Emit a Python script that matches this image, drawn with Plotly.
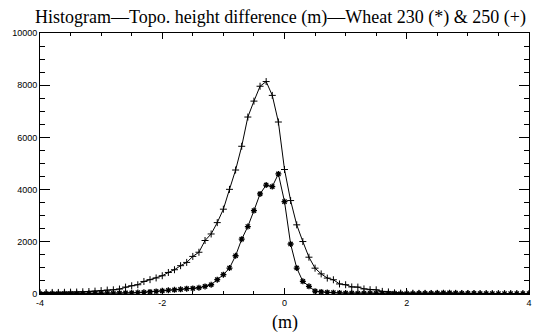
import plotly.graph_objects as go

# bin centres (m)
x_bins = [round(-4 + 0.1 * i, 1) for i in range(81)]

# Wheat 250 (+)
wheat250 = [
    55, 55, 60, 60, 65, 70, 75, 85, 95, 110,
    130, 150, 160, 190, 265, 315, 355, 480, 550, 615,
    700, 825, 930, 1085, 1210, 1440, 1600, 2050, 2300, 2735,
    3250, 4010, 4750, 5660, 6780, 7390, 7960, 8140, 7610, 6590,
    4770, 3580, 2650, 2010, 1410, 990, 770, 610, 545, 385,
    355, 270, 265, 195, 165, 160, 100, 80, 45, 35,
    30, 30, 25, 25, 20, 25, 30, 30, 25, 20,
    20, 15, 15, 15, 10, 10, 10, 10, 10, 10,
    10,
]

# Wheat 230 (*)
wheat230 = [
    15, 15, 15, 15, 20, 20, 20, 20, 25, 25,
    25, 30, 30, 35, 40, 45, 55, 65, 80, 100,
    120, 145, 160, 180, 205, 215, 240, 290, 355, 550,
    740, 995, 1465, 2100, 2585, 3195, 3835, 4175, 4115, 4600,
    3540, 1915, 995, 485, 295, 110, 80, 60, 50, 40,
    35, 35, 30, 30, 30, 25, 25, 25, 25, 20,
    20, 20, 25, 25, 30, 35, 40, 40, 35, 30,
    25, 25, 20, 20, 20, 15, 15, 15, 15, 15,
    15,
]

x_tickvals = [-4, -2, 0, 2, 4]
x_ticktext = ["-4", "-2", "0", "2", "4"]
y_tickvals = [0, 2000, 4000, 6000, 8000, 10000]
y_ticktext = ["0", "2000", "4000", "6000", "8000", "10000"]

title_text = "Histogram\u2014Topo. height difference (m)\u2014Wheat 230 (*) & 250 (+)"
x_title = "(m)"

fig = go.Figure()
fig.add_trace(go.Scatter(
    x=x_bins, y=wheat250, mode="lines+markers", name="250",
    line=dict(color="black", width=1),
    marker=dict(symbol="cross-thin", size=5, color="black",
                line=dict(color="black", width=1)),
))
fig.add_trace(go.Scatter(
    x=x_bins, y=wheat230, mode="lines+markers", name="230",
    line=dict(color="black", width=1),
    marker=dict(symbol="asterisk", size=5, color="black",
                line=dict(color="black", width=1.3)),
))

tickfont = dict(family="Liberation Sans", size=9, color="black")

fig.update_layout(
    width=533, height=333,
    margin=dict(l=40, r=1, t=33, b=39),
    paper_bgcolor="white", plot_bgcolor="white",
    showlegend=False,
    xaxis=dict(
        range=[-4, 4], tickvals=x_tickvals, ticktext=x_ticktext,
        ticks="inside", ticklen=6, tickwidth=1, tickcolor="black",
        minor=dict(dtick=0.5, ticks="inside", ticklen=3, tickcolor="black"),
        showline=True, linecolor="black", linewidth=1, mirror="ticks",
        showgrid=False, zeroline=False, tickfont=tickfont,
        ticklabeloverflow="allow",
    ),
    yaxis=dict(
        range=[0, 10000], tickvals=y_tickvals, ticktext=y_ticktext,
        ticks="inside", ticklen=10, tickwidth=1, tickcolor="black",
        minor=dict(dtick=500, ticks="inside", ticklen=5, tickcolor="black"),
        showline=True, linecolor="black", linewidth=1, mirror="ticks",
        showgrid=False, zeroline=False, tickfont=tickfont,
        ticklabeloverflow="allow",
    ),
    annotations=[
        dict(text=title_text, x=1, xref="paper", xanchor="right", xshift=-1,
             y=1, yref="paper", yanchor="middle", yshift=16, showarrow=False,
             font=dict(family="Liberation Serif", size=18, color="black")),
        dict(text=x_title, x=0.5, xref="paper", y=0, yref="paper",
             yanchor="middle", yshift=-28, showarrow=False,
             font=dict(family="Liberation Serif", size=18, color="black")),
    ],
)

fig.write_html("out.html")
